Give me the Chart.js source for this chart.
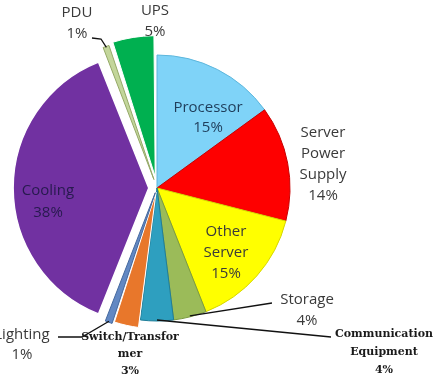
<!DOCTYPE html>
<html>
<head>
<meta charset="utf-8">
<script src="https://cdn.jsdelivr.net/npm/chart.js@4"></script>
<style>
  html, body { margin: 0; padding: 0; background: #ffffff; }
  #wrap { width: 433px; height: 380px; }
</style>
</head>
<body>
<div id="wrap"><canvas id="pieChart" width="433" height="380"></canvas></div>
<script>
// Data center power breakdown (percent), clockwise from 12 o'clock
var categories = ['Processor', 'Server Power Supply', 'Other Server', 'Storage',
  'Communication Equipment', 'Switch/Transformer', 'Lighting', 'Cooling', 'PDU', 'UPS'];
var shares = [15, 14, 15, 4, 4, 3, 1, 38, 1, 5];

// label text lines shown on the chart
var labelLines = [
  ['Processor', '15%'],
  ['Server', 'Power', 'Supply', '14%'],
  ['Other', 'Server', '15%'],
  ['Storage', '4%'],
  ['Communication', 'Equipment', '4%'],
  ['Switch/Transfor', 'mer', '3%'],
  ['Lighting', '1%'],
  ['Cooling', '38%'],
  ['PDU', '1%'],
  ['UPS', '5%']
];

// styling
var sliceColors = ['#7fd3f8', '#fe0000', '#ffff00', '#9bbb59', '#2e9fbf',
  '#e8772b', '#6288c3', '#7131a1', '#c3d69b', '#00b050'];
var edgeColors = ['#5cb6dc', '#c80000', '#d6d600', '#7a9a40', '#1f7d98',
  '#ffffff', '#44689e', '#ffffff', '#94a866', '#ffffff'];
var edgeWidths = [1, 1, 1, 1, 1, 1, 1, 1.5, 1, 1];
// explode distance (chart.js option units; actual shift is smaller)
var explode = [0, 0, 0, 0, 0, 17, 20, 33, 36, 46];

var bigFont = '15px "Open Sans"';
var smallFont = 'bold 11px "DejaVu Serif"';
// where each label block sits (centre x, first line y), line gap, font, colour, leader line
var labelLayout = [
  { x: 208, y: 108, gap: 20, font: bigFont, color: '#1f3d5a' },
  { x: 323, y: 133, gap: 21, font: bigFont, color: '#3a3a3a' },
  { x: 226, y: 232, gap: 21, font: bigFont, color: '#3a3a3a' },
  { x: 307, y: 300, gap: 21, font: bigFont, color: '#3a3a3a', lineTo: [272, 303] },
  { x: 384, y: 334, gap: 18, font: smallFont, color: '#1a1a1a', lineTo: [331, 337] },
  { x: 130, y: 337, gap: 17, font: smallFont, color: '#1a1a1a' },
  { x: 22, y: 335, gap: 20, font: bigFont, color: '#3a3a3a', lineTo: [58, 337], elbow: [82, 337] },
  { x: 48, y: 191, gap: 22, font: bigFont, color: '#271a4e' },
  { x: 77, y: 13, gap: 21, font: bigFont, color: '#3a3a3a', lineTo: [92, 38], elbow: [101, 39] },
  { x: 155, y: 11, gap: 21, font: bigFont, color: '#3a3a3a' }
];

// same shift chart.js applies to an exploded arc
function arcShift(p, offset) {
  var circ = p.endAngle - p.startAngle;
  var base = offset / 4;
  return base + base * (1 - Math.sin(Math.min(Math.PI, circ)));
}

var labelPlugin = {
  id: 'sliceLabels',
  afterDatasetsDraw: function(chart) {
    var ctx = chart.ctx;
    var arcs = chart.getDatasetMeta(0).data;
    ctx.save();
    // leader lines first, text goes over them
    arcs.forEach(function(arc, i) {
      var lay = labelLayout[i];
      if (!lay.lineTo) return;
      var p = arc.getProps(['x', 'y', 'startAngle', 'endAngle', 'outerRadius']);
      var mid = (p.startAngle + p.endAngle) / 2;
      var r = p.outerRadius - 1 + arcShift(p, explode[i]);
      var ex = p.x + Math.cos(mid) * r;
      var ey = p.y + Math.sin(mid) * r;
      ctx.strokeStyle = '#111111';
      ctx.lineWidth = 1.3;
      ctx.beginPath();
      ctx.moveTo(ex, ey);
      if (lay.elbow) ctx.lineTo(lay.elbow[0], lay.elbow[1]);
      ctx.lineTo(lay.lineTo[0], lay.lineTo[1]);
      ctx.stroke();
    });
    arcs.forEach(function(arc, i) {
      var lay = labelLayout[i];
      ctx.font = lay.font;
      ctx.fillStyle = lay.color;
      ctx.textAlign = 'center';
      ctx.textBaseline = 'middle';
      labelLines[i].forEach(function(line, k) {
        ctx.fillText(line, lay.x, lay.y + k * lay.gap);
      });
    });
    ctx.restore();
  }
};

new Chart(document.getElementById('pieChart').getContext('2d'), {
  type: 'pie',
  data: {
    labels: categories,
    datasets: [{
      data: shares,
      backgroundColor: sliceColors,
      borderColor: edgeColors,
      borderWidth: edgeWidths,
      offset: explode
    }]
  },
  options: {
    responsive: false,
    animation: false,
    radius: 133,
    layout: { padding: { left: 0, right: 119, top: 0, bottom: 4 } },
    plugins: {
      legend: { display: false },
      tooltip: { enabled: false }
    }
  },
  plugins: [labelPlugin]
});
</script>
</body>
</html>
